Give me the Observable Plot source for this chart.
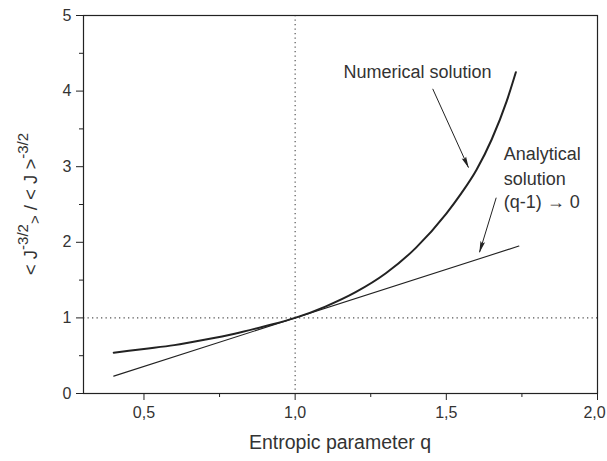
<!DOCTYPE html>
<html>
<head>
<meta charset="utf-8">
<script src="https://cdn.jsdelivr.net/npm/d3@7"></script>
<script src="https://cdn.jsdelivr.net/npm/@observablehq/plot@0.6"></script>
<style>
  html, body { margin: 0; padding: 0; background: #fff; }
  svg { display: block; }
</style>
</head>
<body>
<div id="chart"></div>
<script>
// Numerical solution
const numQ = [0.40, 0.50, 0.60, 0.70, 0.80, 0.90, 1.00, 1.10, 1.20, 1.30, 1.40, 1.50, 1.55, 1.60, 1.65, 1.70, 1.73];
const numY = [0.54, 0.59, 0.64, 0.71, 0.79, 0.89, 1.00, 1.15, 1.34, 1.59, 1.93, 2.38, 2.65, 2.96, 3.36, 3.87, 4.25];
// Analytical solution (q-1) -> 0 : straight line
const anaQ = [0.40, 1.74];
const anaY = [0.23, 1.95];
// Axis ticks
const xMajor = [0.5, 1.0, 1.5, 2.0];
const xMinor = [0.75, 1.25, 1.75];
const yMajor = [0, 1, 2, 3, 4, 5];
const yMinor = [0.5, 1.5, 2.5, 3.5, 4.5];
// Annotation arrows (data coordinates)
const arrowX1 = [1.455, 1.665];
const arrowY1 = [4.03, 2.59];
const arrowX2 = [1.573, 1.610];
const arrowY2 = [2.99, 1.87];
// Annotation labels
const labelNumQ = [1.405];
const labelNumY = [4.25];
const labelNum = ["Numerical solution"];
const labelAnaQ = [1.69, 1.69, 1.69];
const labelAnaY = [3.16, 2.84, 2.53];
const labelAna = ["Analytical", "solution", "(q-1) \u2192 0"];

const numData = numQ.map((q, i) => ({q, y: numY[i]}));
const anaData = anaQ.map((q, i) => ({q, y: anaY[i]}));
const arrows = arrowX1.map((x1, i) => ({x1, y1: arrowY1[i], x2: arrowX2[i], y2: arrowY2[i]}));
const numLab = labelNum.map((t, i) => ({t, q: labelNumQ[i], y: labelNumY[i]}));
const anaLab = labelAna.map((t, i) => ({t, q: labelAnaQ[i], y: labelAnaY[i]}));

const fmt = d => d3.format(".1f")(d).replace(".", ",");
const txt = "#333";
const ink = "#222";

const plot = Plot.plot({
  width: 607,
  height: 461,
  marginLeft: 83,
  marginRight: 10,
  marginTop: 15,
  marginBottom: 68,
  style: {fontFamily: "Liberation Sans, Arial, sans-serif", color: txt, background: "#fff"},
  x: {domain: [0.3, 2.0]},
  y: {domain: [0, 5]},
  marks: [
    Plot.ruleX([1], {stroke: "#555", strokeDasharray: "1.3,3.2", strokeWidth: 1.2}),
    Plot.ruleY([1], {stroke: "#555", strokeDasharray: "1.3,3.2", strokeWidth: 1.2}),
    Plot.line(anaData, {x: "q", y: "y", stroke: ink, strokeWidth: 1.1}),
    Plot.line(numData, {x: "q", y: "y", stroke: ink, strokeWidth: 2, curve: "monotone-x"}),
    Plot.link(arrows, {x1: "x1", y1: "y1", x2: "x2", y2: "y2", stroke: ink, strokeWidth: 1}),
    Plot.text(numLab, {x: "q", y: "y", text: "t", fontSize: 18, fill: txt, textAnchor: "middle"}),
    Plot.text(anaLab, {x: "q", y: "y", text: "t", fontSize: 18, fill: txt, textAnchor: "start"}),
    Plot.axisX(xMajor, {tickSize: 7, tickFormat: fmt, fontSize: 16, tickPadding: 6, label: null, stroke: ink, fill: txt}),
    Plot.axisX(xMinor, {tickSize: 4, tickFormat: () => "", label: null, stroke: ink}),
    Plot.axisY(yMajor, {tickSize: 7, tickFormat: d => String(d), fontSize: 16, tickPadding: 5, label: null, stroke: ink, fill: txt}),
    Plot.axisY(yMinor, {tickSize: 4, tickFormat: () => "", label: null, stroke: ink}),
    Plot.frame({stroke: ink, strokeWidth: 1.2})
  ]
});

const svg = d3.select(plot);
// keep the last x tick label ("2,0") inside the picture
svg.selectAll('g[aria-label="x-axis tick label"] text')
  .filter(function () { return this.textContent === "2,0"; })
  .attr("dx", -3);

// filled arrowheads for annotation links
const defs = svg.insert("defs", ":first-child");
defs.append("marker")
  .attr("id", "ahead")
  .attr("viewBox", "0 0 12 6")
  .attr("refX", 11).attr("refY", 3)
  .attr("markerUnits", "userSpaceOnUse")
  .attr("markerWidth", 12).attr("markerHeight", 6)
  .attr("orient", "auto")
  .append("path")
  .attr("d", "M0,0.6 L12,3 L0,5.4 L2,3 Z")
  .attr("fill", ink);
svg.selectAll('g[aria-label="link"] path').attr("marker-end", "url(#ahead)");

// x axis label
svg.append("text")
  .attr("x", 340).attr("y", 449)
  .attr("text-anchor", "middle")
  .attr("font-size", 19.5)
  .attr("fill", txt)
  .text("Entropic parameter q");
// y axis label with super/subscripts
const yl = svg.append("text")
  .attr("transform", "translate(37,204) rotate(-90)")
  .attr("text-anchor", "middle")
  .attr("font-size", 18.5)
  .attr("fill", txt);
yl.append("tspan").text("< J");
yl.append("tspan").attr("font-size", 15).attr("dy", -9).text("-3/2");
yl.append("tspan").attr("font-size", 15).attr("dy", 12).text(">");
yl.append("tspan").attr("dy", -3).text(" / < J >");
yl.append("tspan").attr("font-size", 15).attr("dy", -9).text("-3/2");

document.getElementById("chart").appendChild(plot);
</script>
</body>
</html>
